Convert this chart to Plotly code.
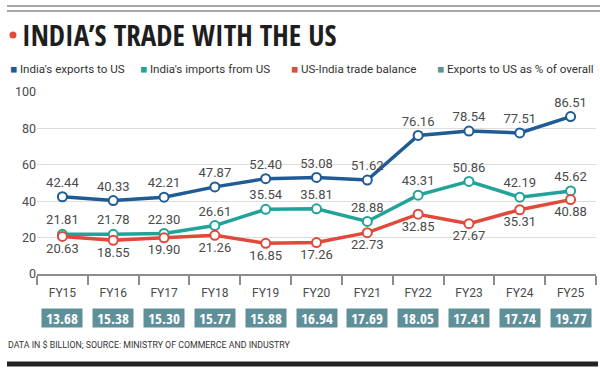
import plotly.graph_objects as go

years = ["FY15", "FY16", "FY17", "FY18", "FY19", "FY20", "FY21", "FY22", "FY23", "FY24", "FY25"]
exports = [42.44, 40.33, 42.21, 47.87, 52.40, 53.08, 51.62, 76.16, 78.54, 77.51, 86.51]
imports = [21.81, 21.78, 22.30, 26.61, 35.54, 35.81, 28.88, 43.31, 50.86, 42.19, 45.62]
balance = [20.63, 18.55, 19.90, 21.26, 16.85, 17.26, 22.73, 32.85, 27.67, 35.31, 40.88]
share_pct = [13.68, 15.38, 15.30, 15.77, 15.88, 16.94, 17.69, 18.05, 17.41, 17.74, 19.77]
y_ticks = [0, 20, 40, 60, 80, 100]

W, H = 600, 373
ML, MR, MT, MB = 37, 4, 92, 99
PW, PH = W - ML - MR, H - MT - MB


def px(xp):
    return (xp - ML) / PW


def py(yp):
    return (H - MB - yp) / PH


COND = "Open Sans Condensed, Roboto, sans-serif"
BODY = "Roboto, Liberation Sans, sans-serif"
C_EXP = "#1e5b97"
C_IMP = "#22a397"
C_BAL = "#e04a3b"
C_PCT = "#5f8f98"
C_TXT = "#4a4a4a"

fig = go.Figure()

series = [
    (exports, C_EXP, "top center"),
    (imports, C_IMP, "top center"),
    (balance, C_BAL, "bottom center"),
]
for vals, col, pos in series:
    fig.add_trace(go.Scatter(
        x=years, y=vals, mode="lines+markers+text",
        line=dict(color=col, width=3.5),
        marker=dict(size=9, color="white", line=dict(color=col, width=2)),
        text=[f"{v:.2f}" for v in vals], textposition=pos,
        textfont=dict(family=BODY, size=13, color=C_TXT),
        cliponaxis=False, showlegend=False, hoverinfo="skip",
    ))

annotations = []
# percentage boxes
for yr, p in zip(years, share_pct):
    annotations.append(dict(
        x=yr, xref="x", y=py(318), yref="paper", yanchor="middle", xanchor="center",
        text=f"<b>{p:.2f}</b>", showarrow=False, bgcolor=C_PCT,
        width=38, height=16, borderpad=1,
        font=dict(family=COND, size=15, color="white"),
    ))

# title
annotations.append(dict(
    x=px(20), y=py(34), xref="paper", yref="paper", xanchor="left", yanchor="middle",
    text="<b>INDIA’S TRADE WITH THE US</b>", showarrow=False,
    font=dict(family=COND, size=29, color="#1e1e1e"),
))

# legend
legend_items = [
    ("India's exports to US", C_EXP, 8),
    ("India's imports from US", C_IMP, 138),
    ("US-India trade balance", C_BAL, 289),
    ("Exports to US as % of overall", C_PCT, 435),
]
for label, col, xp in legend_items:
    annotations.append(dict(
        x=px(xp), y=py(69), xref="paper", yref="paper", xanchor="left", yanchor="middle",
        text=f"<span style='color:{col}'>■</span> {label}", showarrow=False,
        font=dict(family=BODY, size=11.6, color="#333333"),
    ))

# source
annotations.append(dict(
    x=px(6), y=py(345), xref="paper", yref="paper", xanchor="left", yanchor="middle",
    text="DATA IN $ BILLION; SOURCE: MINISTRY OF COMMERCE AND INDUSTRY", showarrow=False,
    font=dict(family=BODY, size=8.8, color="#333333"),
))

shapes = [
    dict(type="line", xref="paper", yref="paper", x0=px(7), x1=px(600), y0=py(6), y1=py(6),
         line=dict(color="#8a8a8a", width=1.5)),
    dict(type="line", xref="paper", yref="paper", x0=px(7), x1=px(600), y0=py(11), y1=py(11),
         line=dict(color="#8a8a8a", width=1.5)),
    dict(type="line", xref="paper", yref="paper", x0=px(7), x1=px(598), y0=py(364), y1=py(364),
         line=dict(color="#222222", width=5)),
    dict(type="circle", xref="paper", yref="paper", x0=px(9.5), x1=px(16.5), y0=py(31.5), y1=py(38.5),
         fillcolor="#e04a3b", line=dict(width=0)),
]

fig.update_layout(
    width=W, height=H,
    margin=dict(l=ML, r=MR, t=MT, b=MB),
    paper_bgcolor="white", plot_bgcolor="white",
    annotations=annotations, shapes=shapes,
    xaxis=dict(
        type="category", range=[-0.5, 10.5], showgrid=False, zeroline=False,
        showline=True, linecolor="#8c8c8c", linewidth=1.5,
        ticks="outside", tickson="boundaries", ticklen=9, tickcolor="#8c8c8c", tickwidth=1.5,
        ticklabelstandoff=7,
        tickfont=dict(family=BODY, size=12, color=C_TXT),
        fixedrange=True,
    ),
    yaxis=dict(
        range=[0, 100], tickvals=y_ticks, showgrid=True, gridcolor="#dedede", gridwidth=1,
        zeroline=False, showline=False,
        tickfont=dict(family=BODY, size=12.5, color=C_TXT),
        fixedrange=True,
    ),
)

fig.write_html("out.html", config={"displayModeBar": False},
               post_script="document.body.style.margin='0';")
